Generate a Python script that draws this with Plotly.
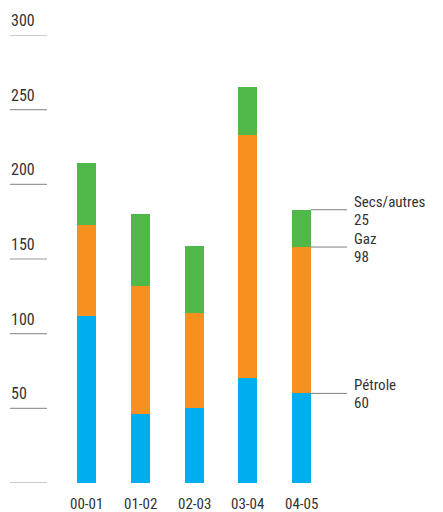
import plotly.graph_objects as go

# Seasons and energy mix per season
seasons = ["00-01", "01-02", "02-03", "03-04", "04-05"]
petrole = [112, 46, 50, 70, 60]
gaz = [61, 86, 64, 163, 98]
secs_autres = [41, 48, 45, 32, 25]

series_names = ["Pétrole", "Gaz", "Secs/autres"]
colors = ["#00AEEF", "#F7901E", "#50B848"]

y_ticks = [0, 50, 100, 150, 200, 250, 300]

W, H = 443, 512
FONT = "Roboto Condensed, Liberation Sans Narrow, Roboto, sans-serif"
TEXT = "#333333"

# x range chosen so bars land at fixed pixel spacing across a full-width plot area
x_lo, x_hi = -1.622, 6.639
bar_w = 0.354

def px_to_x(px):
    return x_lo + px / W * (x_hi - x_lo)

fig = go.Figure()
xs = list(range(len(seasons)))
for name, vals, col in zip(series_names, [petrole, gaz, secs_autres], colors):
    fig.add_trace(go.Bar(x=xs, y=vals, name=name, marker=dict(color=col, line=dict(width=0)),
                         width=bar_w, hoverinfo="y+name"))

shapes = []
annotations = []

# Short tick rules with the value sitting above each
for t in y_ticks:
    shapes.append(dict(type="line", xref="paper", yref="y", x0=10 / W, x1=47 / W, y0=t, y1=t,
                       line=dict(color="#9a9a9a", width=1.2)))
    if t > 0:
        annotations.append(dict(xref="paper", yref="y", x=9 / W, y=t, text=str(t), showarrow=False,
                                xanchor="left", yanchor="bottom", yshift=3,
                                font=dict(family=FONT, size=16, color=TEXT)))

# Season labels under the bars
for i, s in enumerate(seasons):
    annotations.append(dict(xref="x", yref="paper", x=i, y=0, text=s, showarrow=False,
                            xanchor="center", yanchor="top", yshift=-10,
                            font=dict(family=FONT, size=15, color=TEXT)))

# Callouts for the latest season: name just above the rule, value just below
last = len(seasons) - 1
cum = 0
x_edge = last + bar_w / 2
x_end = px_to_x(347)
x_txt = px_to_x(353)
for name, vals in zip(series_names, [petrole, gaz, secs_autres]):
    cum += vals[last]
    shapes.append(dict(type="line", xref="x", yref="y", x0=x_edge, x1=x_end, y0=cum, y1=cum,
                       line=dict(color="#808080", width=1)))
    annotations.append(dict(xref="x", yref="y", x=x_txt, y=cum, text=name, showarrow=False,
                            xanchor="left", yanchor="bottom", yshift=-2, borderpad=0,
                            font=dict(family=FONT, size=15, color=TEXT)))
    annotations.append(dict(xref="x", yref="y", x=x_txt, y=cum, text=str(vals[last]), showarrow=False,
                            xanchor="left", yanchor="top", yshift=0, borderpad=0,
                            font=dict(family=FONT, size=15, color=TEXT)))

fig.update_layout(
    width=W, height=H,
    margin=dict(l=0, r=0, t=35, b=29),
    barmode="stack",
    bargap=0,
    showlegend=False,
    plot_bgcolor="white",
    paper_bgcolor="white",
    xaxis=dict(range=[x_lo, x_hi], visible=False, fixedrange=True),
    yaxis=dict(range=[0, 300], visible=False, fixedrange=True),
    shapes=shapes,
    annotations=annotations,
)

fig.write_html("out.html")
